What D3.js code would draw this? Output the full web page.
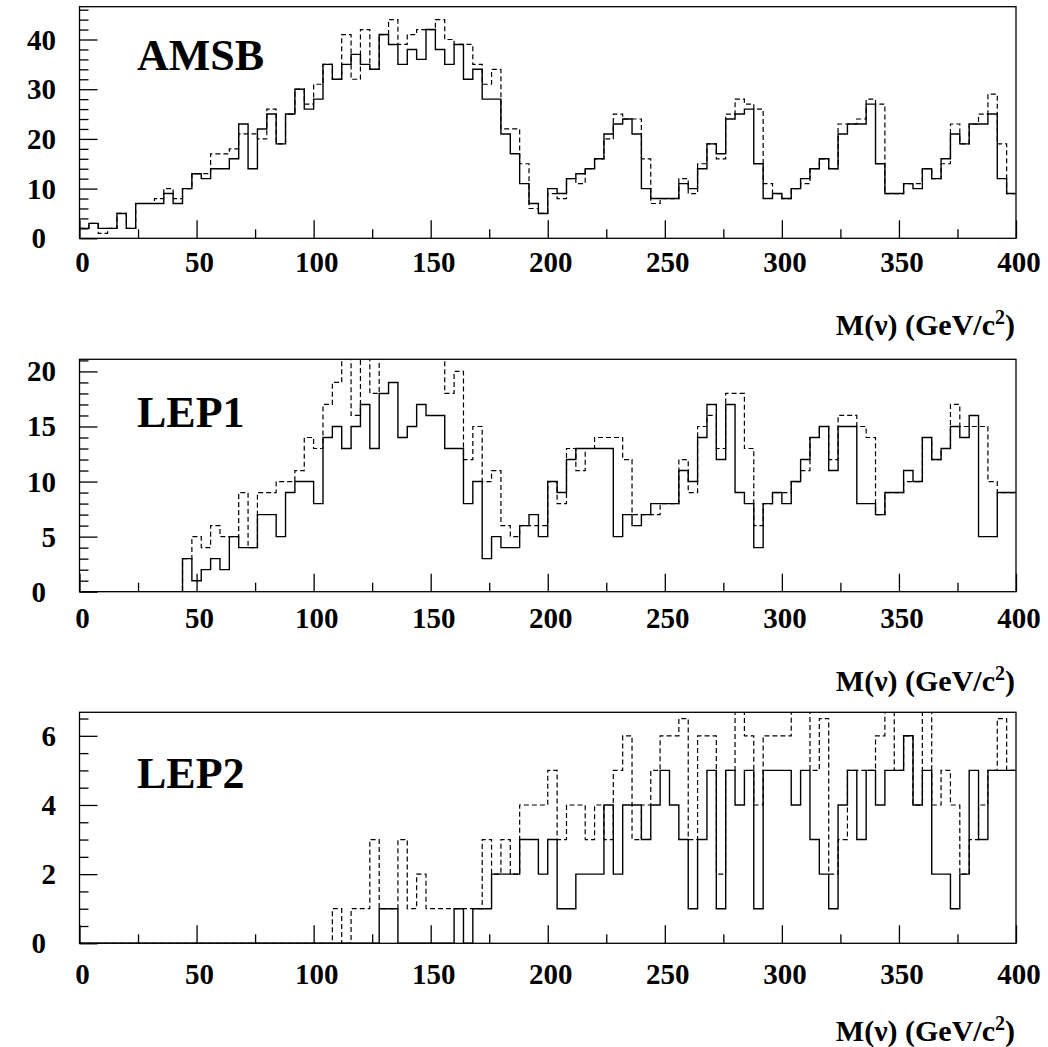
<!DOCTYPE html>
<html>
<head>
<meta charset="utf-8">
<script src="https://cdn.jsdelivr.net/npm/d3@7"></script>
<style>
    body { margin: 0; background: #fff; }
    svg { display: block; }
    text { font-family: "Liberation Serif", "Times New Roman", serif; font-weight: bold; fill: #000; }
</style>
</head>
<body>
<svg width="1048" height="1047"></svg>
<script>
// левые границы бинов (ширина бина 4 ГэВ)
const binLow = d3.range(0, 400, 4);
const binWidth = 4;

const panelNames = ["AMSB", "LEP1", "LEP2"];
const xTicks = [0, 50, 100, 150, 200, 250, 300, 350, 400];

// AMSB
const amsbSolid = [2,3,2,2,5,2,7,7,7,9, 7,10,13,12,14,14,16,23,14,22, 25,19,25,30,26,28,35,32,35,37,
    35,34,41,39,35,38,36,42,38,35, 39,32,34,28,28,21,17,11,7,5, 10,9,12,13,14,16,21,23,24,21,
    10,8,8,8,11,10,14,19,17,24, 25,26,15,8,9,8,10,12,14,16, 14,21,23,23,27,15,9,9,11,10,
    14,12,16,21,19,23,23,25,12,9];
const amsbDashed = [2,3,1,2,5,2,7,7,8,10, 8,10,13,13,17,17,18,21,21,20, 26,19,25,30,27,31,35,32,41,32,
    42,34,41,44,39,41,42,42,44,40, 39,39,35,31,34,22,22,15,6,5, 9,8,12,11,14,16,20,25,24,24,
    16,7,8,8,12,9,15,19,16,25, 28,27,26,11,9,8,10,11,14,16, 14,23,23,24,28,27,9,9,11,11,
    14,12,15,23,19,23,25,29,19,9];

// LEP1
const lep1Solid = [0,0,0,0,0,0,0,0,0,0, 0,3,1,2,3,2,5,4,4,7, 7,5,9,10,10,8,14,15,13,15,
    17,13,18,19,14,15,17,16,16,13, 13,8,10,3,5,4,4,6,7,5, 10,9,12,13,13,13,13,5,7,6,
    7,8,8,8,11,10,14,17,12,17, 9,8,4,8,9,8,10,12,14,15, 11,15,15,8,8,7,9,9,11,10,
    14,12,13,15,14,16,5,5,9,9];
const lep1Dashed = [0,0,0,0,0,0,0,0,0,0, 0,3,5,4,6,5,5,9,4,9, 9,10,10,11,14,13,17,19,22,16,
    22,18,22,22,22,22,22,22,22,18, 20,12,15,10,11,6,5,6,6,6, 10,8,13,11,13,14,14,14,12,7,
    7,7,8,8,12,9,15,16,13,18, 18,13,6,8,9,9,10,11,14,15, 12,16,16,15,14,7,9,9,10,10,
    14,12,13,17,15,15,15,10,9,9];

// LEP2
const lep2Solid = [0,0,0,0,0,0,0,0,0,0, 0,0,0,0,0,0,0,0,0,0, 0,0,0,0,0,0,0,0,0,0,
    0,0,1,1,0,0,0,0,0,0, 1,0,1,1,2,2,2,3,3,2, 3,1,1,2,2,2,4,2,4,4,
    3,4,5,4,3,1,3,5,1,5, 4,5,1,5,5,5,4,5,3,2, 1,4,5,3,5,4,5,5,6,4,
    5,2,2,1,2,5,3,5,5,5];
const lep2Dashed = [0,0,0,0,0,0,0,0,0,0, 0,0,0,0,0,0,0,0,0,0, 0,0,0,0,0,0,0,1,0,1,
    1,3,1,1,3,1,2,1,1,1, 1,1,1,3,2,3,2,4,4,4, 5,3,4,4,3,4,3,5,6,3,
    4,5,6,6,6.5,3,6,6,2,5, 7,6,4,6,6,6,7,7,5,6.5, 2,3,5,5,5,6,7,5,6,4,
    7,4,5,4,2,3,4,5,6.5,5];

const yTicks1 = [0, 10, 20, 30, 40];
const yTicks2 = [0, 5, 10, 15, 20];
const yTicks3 = [0, 2, 4, 6];

const seriesSolid = [amsbSolid, lep1Solid, lep2Solid];
const seriesDashed = [amsbDashed, lep1Dashed, lep2Dashed];
const yTicksAll = [yTicks1, yTicks2, yTicks3];

// области вывода панелей
const panels = [
    {top: 6.7, bottom: 238.3, yMax: 46.6, minor: 2, nameY: 70, labY: 272, titleY: 335},
    {top: 359.3, bottom: 591.7, yMax: 21.1, minor: 1, nameY: 427, labY: 628, titleY: 691},
    {top: 712.3, bottom: 943.3, yMax: 6.68, minor: 0.5, nameY: 788, labY: 984, titleY: 1041}
];

const attr_area = { left: 79.5, right: 1016 };

const svg = d3.select("svg");

function drawPanel(k) {
    const p = panels[k];
    const g = svg.append("g");

    const scX = d3.scaleLinear().domain([0, 400]).range([attr_area.left, attr_area.right]);
    const scY = d3.scaleLinear().domain([0, p.yMax]).range([p.bottom, p.top]);

    // обрезка по рамке
    g.append("clipPath").attr("id", "clip" + k)
        .append("rect")
        .attr("x", attr_area.left).attr("y", p.top)
        .attr("width", attr_area.right - attr_area.left)
        .attr("height", p.bottom - p.top);

    const line = d3.line()
        .x(d => scX(d[0]))
        .y(d => scY(d[1]))
        .curve(d3.curveStepAfter);

    function stepPoints(vals) {
        const pts = vals.map((v, i) => [binLow[i], v]);
        pts.push([binLow[binLow.length - 1] + binWidth, vals[vals.length - 1]]);
        return pts;
    }

    g.append("path")
        .attr("d", line(stepPoints(seriesDashed[k])))
        .attr("clip-path", `url(#clip${k})`)
        .style("fill", "none")
        .style("stroke", "#000")
        .style("stroke-width", 1.2)
        .style("stroke-dasharray", "5,3");

    g.append("path")
        .attr("d", line(stepPoints(seriesSolid[k])))
        .attr("clip-path", `url(#clip${k})`)
        .style("fill", "none")
        .style("stroke", "#000")
        .style("stroke-width", 1.4);

    // рамка
    g.append("rect")
        .attr("x", attr_area.left).attr("y", p.top)
        .attr("width", attr_area.right - attr_area.left)
        .attr("height", p.bottom - p.top)
        .style("fill", "none")
        .style("stroke", "#000")
        .style("stroke-width", 1.3);

    // ось X: большие и малые засечки внутрь
    const axisX = d3.axisTop(scX).tickValues(xTicks).tickSize(18).tickFormat("");
    g.append("g")
        .attr("transform", `translate(0, ${p.bottom})`)
        .call(axisX)
        .call(s => s.select(".domain").remove())
        .call(s => s.selectAll("line").style("stroke-width", 1.3));
    const minorX = d3.axisTop(scX).tickValues(d3.range(25, 400, 50)).tickSize(9).tickFormat("");
    g.append("g")
        .attr("transform", `translate(0, ${p.bottom})`)
        .call(minorX)
        .call(s => s.select(".domain").remove())
        .call(s => s.selectAll("line").style("stroke-width", 1.3));

    g.selectAll(".xlab")
        .data(xTicks)
        .enter()
        .append("text")
        .attr("x", d => scX(d) + 3)
        .attr("y", p.labY)
        .attr("text-anchor", "middle")
        .style("font-size", "29px")
        .text(d => d);

    // ось Y
    const yTicks = yTicksAll[k];
    const axisY = d3.axisRight(scY).tickValues(yTicks).tickSize(18).tickFormat("");
    g.append("g")
        .attr("transform", `translate(${attr_area.left}, 0)`)
        .call(axisY)
        .call(s => s.select(".domain").remove())
        .call(s => s.selectAll("line").style("stroke-width", 1.3));
    const minorVals = d3.range(0, p.yMax, p.minor).filter(v => !yTicks.includes(v));
    const minorY = d3.axisRight(scY).tickValues(minorVals).tickSize(9).tickFormat("");
    g.append("g")
        .attr("transform", `translate(${attr_area.left}, 0)`)
        .call(minorY)
        .call(s => s.select(".domain").remove())
        .call(s => s.selectAll("line").style("stroke-width", 1.3));

    // ноль сдвинут влево, как в оригинале
    g.selectAll(".ylab")
        .data(yTicks)
        .enter()
        .append("text")
        .attr("x", d => d === 0 ? 46 : 56)
        .attr("y", d => scY(d) + 10)
        .attr("text-anchor", "end")
        .style("font-size", "29px")
        .text(d => d);

    // название панели
    g.append("text")
        .attr("x", 137)
        .attr("y", p.nameY)
        .style("font-size", "44px")
        .text(panelNames[k]);

    // подпись оси
    const t = g.append("text")
        .attr("x", 1015)
        .attr("y", p.titleY)
        .attr("text-anchor", "end")
        .style("font-size", "30px");
    t.append("tspan").text("M(\u03BD) (GeV/c");
    t.append("tspan").attr("dy", -11).style("font-size", "20px").text("2");
    t.append("tspan").attr("dy", 11).text(")");
}

for (let k = 0; k < 3; k++) drawPanel(k);
</script>
</body>
</html>
